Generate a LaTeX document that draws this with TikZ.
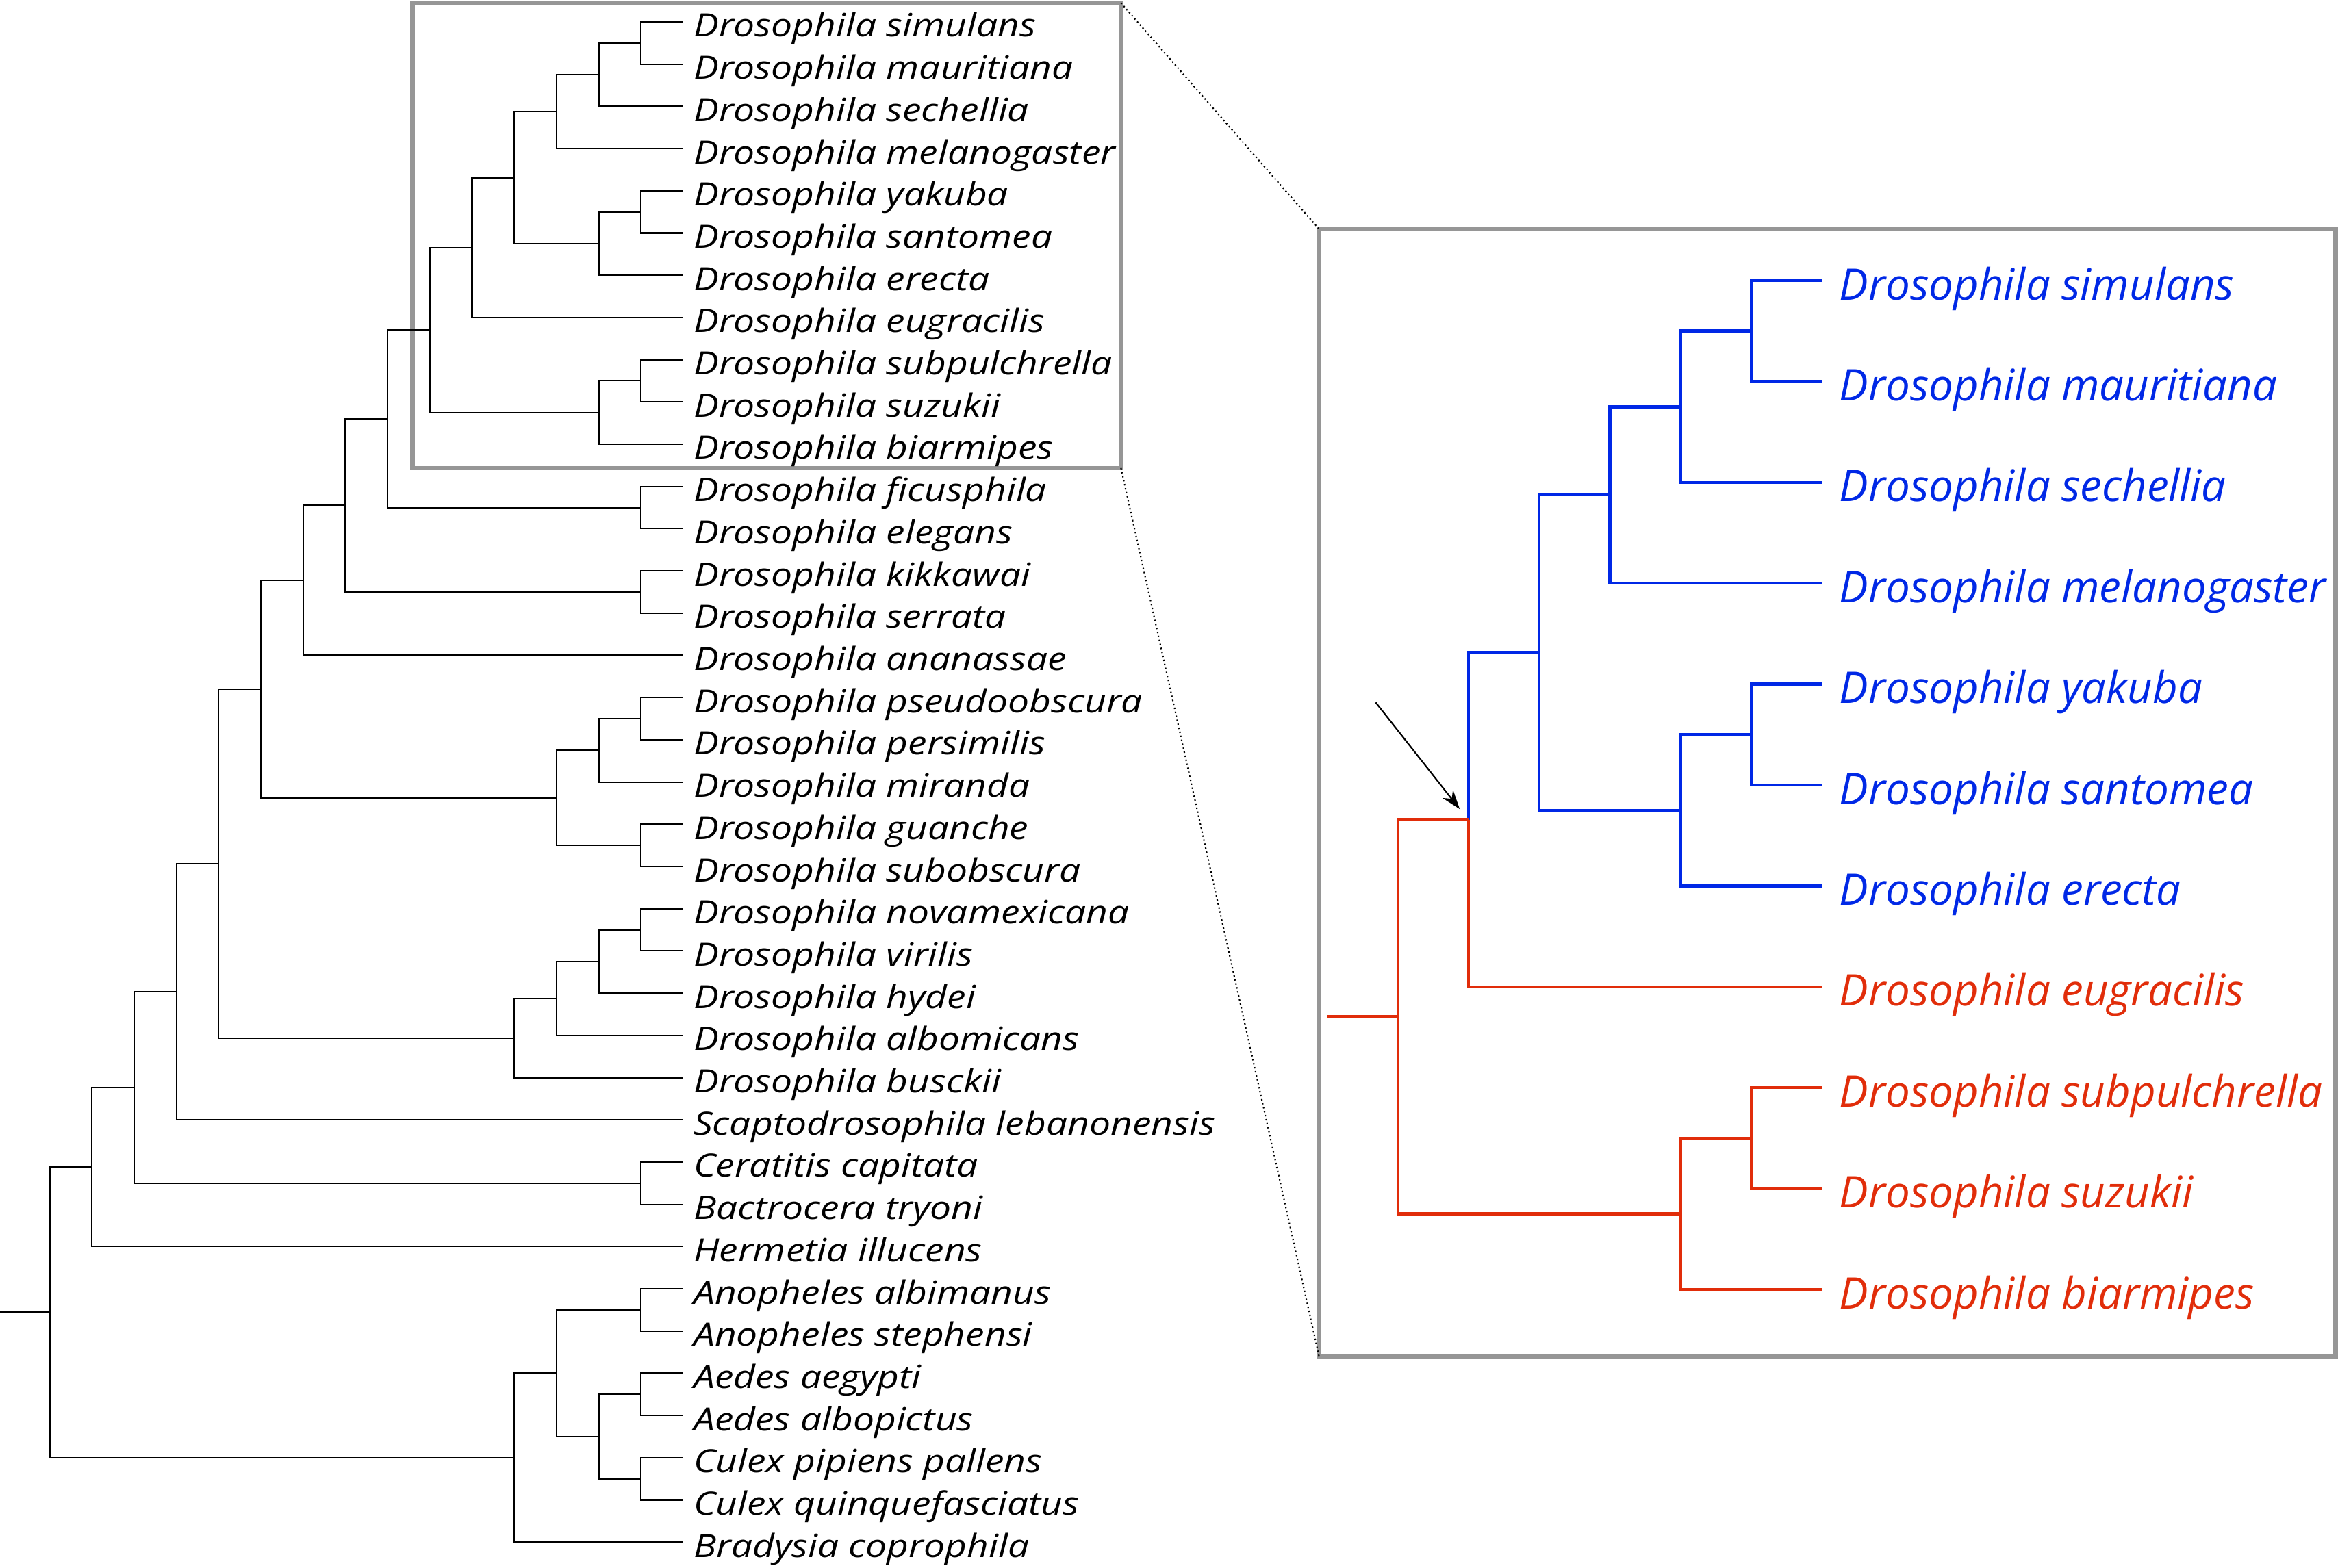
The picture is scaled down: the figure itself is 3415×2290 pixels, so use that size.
\documentclass[tikz,border=0pt]{standalone}
\usepackage{fontspec}
\setmainfont{Open Sans}
\newfontfamily\leftfont[FakeStretch=1.18]{Open Sans}
\usepackage{xcolor}
\usetikzlibrary{arrows.meta}

\definecolor{zoomgrey}{RGB}{150,150,150}
\definecolor{cladeblue}{RGB}{0,40,230}
\definecolor{cladered}{RGB}{225,45,10}

\begin{document}
\begin{tikzpicture}[x=0.01cm, y=-0.01cm,
    leaf/.style={anchor=west, inner xsep=4.3pt, inner ysep=0pt, outer sep=0pt, text height=12.5pt, text depth=0pt, font=\leftfont\itshape\fontsize{13.3}{15}\selectfont},
    bigleaf/.style={anchor=west, inner xsep=7.3pt, inner ysep=0pt, outer sep=0pt, text height=15.93pt, text depth=0pt, font=\itshape\fontsize{18.1}{20}\selectfont},
    branch/.style={line width=0.6pt, black},
    bluebranch/.style={line width=1.27pt, cladeblue},
    redbranch/.style={line width=1.27pt, cladered},
    zoombox/.style={rectangle, draw=zoomgrey, line width=1.85pt, outer sep=0pt, inner sep=0pt},
    zoomline/.style={line width=0.6pt, dash pattern=on 0.6pt off 1.1pt},
    arrow/.style={line width=0.63pt, -{Stealth[length=8pt,width=5.5pt]}}
]
\useasboundingbox (0,0) rectangle (3415,2290);

% Zoom boxes
\node[zoombox, minimum width=10.34cm, minimum height=6.79cm] (smallbox) at (1120,344.1) {};
\node[zoombox, minimum width=14.84cm, minimum height=16.46cm] (bigbox) at (2669,1158) {};
\draw[zoomline] (smallbox.north east) -- (bigbox.north west);
\draw[zoomline] (smallbox.south east) -- (bigbox.south west);

% Full tree: species
\node[leaf] (sim) at (998,32) {Drosophila simulans};
\node[leaf] (mau) at (998,93.7) {Drosophila mauritiana};
\node[leaf] (sec) at (998,155.4) {Drosophila sechellia};
\node[leaf] (mel) at (998,217.1) {Drosophila melanogaster};
\node[leaf] (yak) at (998,278.8) {Drosophila yakuba};
\node[leaf] (san) at (998,340.5) {Drosophila santomea};
\node[leaf] (ere) at (998,402.2) {Drosophila erecta};
\node[leaf] (eug) at (998,463.9) {Drosophila eugracilis};
\node[leaf] (sbp) at (998,525.6) {Drosophila subpulchrella};
\node[leaf] (suz) at (998,587.3) {Drosophila suzukii};
\node[leaf] (bia) at (998,649) {Drosophila biarmipes};
\node[leaf] (fic) at (998,710.7) {Drosophila ficusphila};
\node[leaf] (ele) at (998,772.4) {Drosophila elegans};
\node[leaf] (kik) at (998,834.1) {Drosophila kikkawai};
\node[leaf] (ser) at (998,895.8) {Drosophila serrata};
\node[leaf] (ana) at (998,957.5) {Drosophila ananassae};
\node[leaf] (pse) at (998,1019.2) {Drosophila pseudoobscura};
\node[leaf] (per) at (998,1080.9) {Drosophila persimilis};
\node[leaf] (mir) at (998,1142.6) {Drosophila miranda};
\node[leaf] (gua) at (998,1204.3) {Drosophila guanche};
\node[leaf] (sbo) at (998,1266) {Drosophila subobscura};
\node[leaf] (nov) at (998,1327.7) {Drosophila novamexicana};
\node[leaf] (vir) at (998,1389.4) {Drosophila virilis};
\node[leaf] (hyd) at (998,1451.1) {Drosophila hydei};
\node[leaf] (alb) at (998,1512.8) {Drosophila albomicans};
\node[leaf] (bus) at (998,1574.5) {Drosophila busckii};
\node[leaf] (sca) at (998,1636.2) {Scaptodrosophila lebanonensis};
\node[leaf] (cer) at (998,1697.9) {Ceratitis capitata};
\node[leaf] (bac) at (998,1759.6) {Bactrocera tryoni};
\node[leaf] (her) at (998,1821.3) {Hermetia illucens};
\node[leaf] (anal) at (998,1883) {Anopheles albimanus};
\node[leaf] (anst) at (998,1944.7) {Anopheles stephensi};
\node[leaf] (aeae) at (998,2006.4) {Aedes aegypti};
\node[leaf] (aeal) at (998,2068.1) {Aedes albopictus};
\node[leaf] (cupi) at (998,2129.8) {Culex pipiens pallens};
\node[leaf] (cuqu) at (998,2191.5) {Culex quinquefasciatus};
\node[leaf] (bra) at (998,2253.2) {Bradysia coprophila};

% Full tree: internal nodes
\coordinate (simmau) at (936.3,62.9);
\coordinate (simsec) at (874.6,109.1);
\coordinate (simmel) at (812.9,163.1);
\coordinate (yaksan) at (936.3,309.7);
\coordinate (yakere) at (874.6,355.9);
\coordinate (melsub) at (751.2,259.5);
\coordinate (euggrp) at (689.5,361.7);
\coordinate (sbpsuz) at (936.3,556.4);
\coordinate (suzgrp) at (874.6,602.7);
\coordinate (zoomgrp) at (627.8,482.2);
\coordinate (ficele) at (936.3,741.6);
\coordinate (ficgrp) at (566.1,611.9);
\coordinate (kikser) at (936.3,865);
\coordinate (kikgrp) at (504.4,738.4);
\coordinate (anagrp) at (442.7,848);
\coordinate (pseper) at (936.3,1050.1);
\coordinate (psemir) at (874.6,1096.3);
\coordinate (guasbo) at (936.3,1235.2);
\coordinate (obsgrp) at (812.9,1165.8);
\coordinate (sophgrp) at (381,1006.9);
\coordinate (novvir) at (936.3,1358.6);
\coordinate (virhyd) at (874.6,1404.8);
\coordinate (viralb) at (812.9,1458.8);
\coordinate (virgrp) at (751.2,1516.7);
\coordinate (drosgrp) at (319.3,1261.8);
\coordinate (scagrp) at (257.6,1449);
\coordinate (cerbac) at (936.3,1728.8);
\coordinate (tephgrp) at (195.9,1588.9);
\coordinate (brachy) at (134.2,1705.1);
\coordinate (anopgrp) at (936.3,1913.9);
\coordinate (aedgrp) at (936.3,2037.3);
\coordinate (culgrp) at (936.3,2160.7);
\coordinate (aedcul) at (874.6,2099);
\coordinate (culicid) at (812.9,2006.5);
\coordinate (nemato) at (751.2,2129.9);
\coordinate (root) at (72.5,1917.5);
\coordinate (rootstub) at (0,1917.5);

% Full tree: branches
\draw[branch] (simmau) |- (sim) (simmau) |- (mau);
\draw[branch] (simsec) |- (simmau) (simsec) |- (sec);
\draw[branch] (simmel) |- (simsec) (simmel) |- (mel);
\draw[branch] (yaksan) |- (yak) (yaksan) |- (san);
\draw[branch] (yakere) |- (yaksan) (yakere) |- (ere);
\draw[branch] (melsub) |- (simmel) (melsub) |- (yakere);
\draw[branch] (euggrp) |- (melsub) (euggrp) |- (eug);
\draw[branch] (sbpsuz) |- (sbp) (sbpsuz) |- (suz);
\draw[branch] (suzgrp) |- (sbpsuz) (suzgrp) |- (bia);
\draw[branch] (zoomgrp) |- (euggrp) (zoomgrp) |- (suzgrp);
\draw[branch] (ficele) |- (fic) (ficele) |- (ele);
\draw[branch] (ficgrp) |- (zoomgrp) (ficgrp) |- (ficele);
\draw[branch] (kikser) |- (kik) (kikser) |- (ser);
\draw[branch] (kikgrp) |- (ficgrp) (kikgrp) |- (kikser);
\draw[branch] (anagrp) |- (kikgrp) (anagrp) |- (ana);
\draw[branch] (pseper) |- (pse) (pseper) |- (per);
\draw[branch] (psemir) |- (pseper) (psemir) |- (mir);
\draw[branch] (guasbo) |- (gua) (guasbo) |- (sbo);
\draw[branch] (obsgrp) |- (psemir) (obsgrp) |- (guasbo);
\draw[branch] (sophgrp) |- (anagrp) (sophgrp) |- (obsgrp);
\draw[branch] (novvir) |- (nov) (novvir) |- (vir);
\draw[branch] (virhyd) |- (novvir) (virhyd) |- (hyd);
\draw[branch] (viralb) |- (virhyd) (viralb) |- (alb);
\draw[branch] (virgrp) |- (viralb) (virgrp) |- (bus);
\draw[branch] (drosgrp) |- (sophgrp) (drosgrp) |- (virgrp);
\draw[branch] (scagrp) |- (drosgrp) (scagrp) |- (sca);
\draw[branch] (cerbac) |- (cer) (cerbac) |- (bac);
\draw[branch] (tephgrp) |- (scagrp) (tephgrp) |- (cerbac);
\draw[branch] (brachy) |- (tephgrp) (brachy) |- (her);
\draw[branch] (anopgrp) |- (anal) (anopgrp) |- (anst);
\draw[branch] (aedgrp) |- (aeae) (aedgrp) |- (aeal);
\draw[branch] (culgrp) |- (cupi) (culgrp) |- (cuqu);
\draw[branch] (aedcul) |- (aedgrp) (aedcul) |- (culgrp);
\draw[branch] (culicid) |- (anopgrp) (culicid) |- (aedcul);
\draw[branch] (nemato) |- (culicid) (nemato) |- (bra);
\draw[branch] (root) |- (brachy) (root) |- (nemato);
\draw[branch] (rootstub) -- (root);

% Zoomed clade: species
\node[bigleaf, text=cladeblue] (zsim) at (2661,410) {Drosophila simulans};
\node[bigleaf, text=cladeblue] (zmau) at (2661,557.4) {Drosophila mauritiana};
\node[bigleaf, text=cladeblue] (zsec) at (2661,704.8) {Drosophila sechellia};
\node[bigleaf, text=cladeblue] (zmel) at (2661,852.2) {Drosophila melanogaster};
\node[bigleaf, text=cladeblue] (zyak) at (2661,999.6) {Drosophila yakuba};
\node[bigleaf, text=cladeblue] (zsan) at (2661,1147) {Drosophila santomea};
\node[bigleaf, text=cladeblue] (zere) at (2661,1294.4) {Drosophila erecta};
\node[bigleaf, text=cladered] (zeug) at (2661,1441.8) {Drosophila eugracilis};
\node[bigleaf, text=cladered] (zsbp) at (2661,1589.2) {Drosophila subpulchrella};
\node[bigleaf, text=cladered] (zsuz) at (2661,1736.6) {Drosophila suzukii};
\node[bigleaf, text=cladered] (zbia) at (2661,1884) {Drosophila biarmipes};

% Zoomed clade: internal nodes
\coordinate (zsimmau) at (2557.8,483.7);
\coordinate (zsimsec) at (2454.6,594.3);
\coordinate (zsimmel) at (2351.4,723.2);
\coordinate (zyaksan) at (2557.8,1073.3);
\coordinate (zyakere) at (2454.6,1183.9);
\coordinate (zmelsub) at (2248.2,953.5);
\coordinate (zeuggrp) at (2145,1197.7);
\coordinate (zsbpsuz) at (2557.8,1662.9);
\coordinate (zsuzgrp) at (2454.6,1773.5);
\coordinate (zroot) at (2041.8,1485.6);
\coordinate (zstub) at (1938.6,1485.6);

% Zoomed clade: branches
\draw[bluebranch] (zsimmau) |- (zsim) (zsimmau) |- (zmau);
\draw[bluebranch] (zsimsec) |- (zsimmau) (zsimsec) |- (zsec);
\draw[bluebranch] (zsimmel) |- (zsimsec) (zsimmel) |- (zmel);
\draw[bluebranch] (zyaksan) |- (zyak) (zyaksan) |- (zsan);
\draw[bluebranch] (zyakere) |- (zyaksan) (zyakere) |- (zere);
\draw[bluebranch] (zmelsub) |- (zsimmel) (zmelsub) |- (zyakere);
\draw[bluebranch] (zeuggrp) |- (zmelsub);
\draw[redbranch] (zeuggrp) |- (zeug);
\draw[redbranch] (zsbpsuz) |- (zsbp) (zsbpsuz) |- (zsuz);
\draw[redbranch] (zsuzgrp) |- (zsbpsuz) (zsuzgrp) |- (zbia);
\draw[redbranch] (zroot) |- (zeuggrp) (zroot) |- (zsuzgrp);
\draw[redbranch] (zstub) -- (zroot);

% Arrow
\coordinate (arrowtail) at (2009.4,1026.3);
\coordinate (arrowtip) at (2132.1,1182.1);
\draw[arrow] (arrowtail) -- (arrowtip);

\end{tikzpicture}
\end{document}
